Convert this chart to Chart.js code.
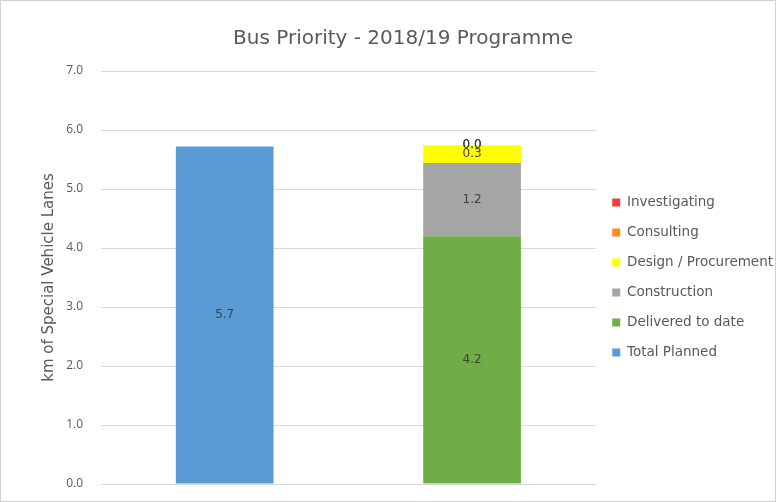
<!DOCTYPE html>
<html lang="en">
<head>
    <meta charset="UTF-8">
    <title>Bus Priority - 2018/19 Programme</title>
    <script src="https://cdn.jsdelivr.net/npm/chart.js"></script>
    <style>
        html, body { margin: 0; padding: 0; background: #fff; }
        .wrap {
            width: 776px;
            height: 502px;
            box-sizing: border-box;
            border: 1px solid #d0d0d0;
        }
    </style>
</head>
<body>
    <div class="wrap"><canvas id="busChart" width="774" height="500"></canvas></div>

    <script>
        const categories = ["Planned", "Progress"];
        const totalPlanned = [5.72, null];
        const delivered = [null, 4.2];
        const construction = [null, 1.24];
        const designProcurement = [null, 0.3];
        const consulting = [null, 0.0];
        const investigating = [null, 0.0];
        const yTicks = [0, 1, 2, 3, 4, 5, 6, 7];

        const FONT = "'DejaVu Sans', sans-serif";
        const TICK_FONT = "'Open Sans', sans-serif";

        // draws the value in the middle of each stacked segment
        const valueLabels = {
            id: "valueLabels",
            afterDatasetsDraw(chart) {
                const ctx = chart.ctx;
                ctx.save();
                ctx.font = "12px " + FONT;
                ctx.fillStyle = "#404040";
                ctx.textAlign = "center";
                ctx.textBaseline = "middle";
                chart.data.datasets.forEach((ds, i) => {
                    const meta = chart.getDatasetMeta(i);
                    meta.data.forEach((bar, j) => {
                        const v = ds.data[j];
                        if (v === null || v === undefined) return;
                        const y = (bar.y + bar.base) / 2;
                        ctx.fillText(v.toFixed(1), bar.x, y);
                    });
                });
                ctx.restore();
            }
        };

        const ctx = document.getElementById("busChart").getContext("2d");
        const chart = new Chart(ctx, {
            type: "bar",
            data: {
                labels: categories,
                datasets: [
                    { label: "Total Planned", data: totalPlanned, backgroundColor: "#5B9BD5" },
                    { label: "Delivered to date", data: delivered, backgroundColor: "#70AD47" },
                    { label: "Construction", data: construction, backgroundColor: "#A5A5A5" },
                    { label: "Design / Procurement", data: designProcurement, backgroundColor: "#FFFF00" },
                    { label: "Consulting", data: consulting, backgroundColor: "#FF8C1A" },
                    { label: "Investigating", data: investigating, backgroundColor: "#F23C3C" }
                ]
            },
            options: {
                responsive: false,
                animation: false,
                layout: { padding: { left: 22, right: -8, top: 22, bottom: 17 } },
                datasets: {
                    bar: { categoryPercentage: 0.5, barPercentage: 0.79 }
                },
                plugins: {
                    title: {
                        display: true,
                        text: "Bus Priority - 2018/19 Programme",
                        color: "#595959",
                        font: { family: FONT, size: 20, weight: "normal" },
                        padding: { top: 4, bottom: 20 }
                    },
                    legend: {
                        position: "right",
                        reverse: true,
                        title: {
                            display: true,
                            text: " ",
                            font: { size: 1 },
                            padding: { top: 47, bottom: 0 }
                        },
                        labels: {
                            boxWidth: 8,
                            boxHeight: 8,
                            padding: 16.5,
                            color: "#595959",
                            font: { family: FONT, size: 13.5 }
                        }
                    },
                    tooltip: { enabled: false }
                },
                scales: {
                    x: {
                        stacked: true,
                        ticks: { display: false },
                        grid: { display: false, drawTicks: false },
                        border: { color: "#d9d9d9" },
                        afterFit: axis => { axis.height = 0; }
                    },
                    y: {
                        stacked: true,
                        min: 0,
                        max: 7,
                        afterBuildTicks: axis => { axis.ticks = yTicks.map(v => ({ value: v })); },
                        afterFit: axis => {
                            axis.width = 78;
                            axis.paddingTop = 8;
                            axis.paddingBottom = 8;
                        },
                        ticks: {
                            color: "#595959",
                            padding: 18,
                            font: { family: TICK_FONT, size: 12 },
                            callback: v => v.toFixed(1)
                        },
                        grid: { color: "#d9d9d9", drawTicks: false },
                        border: { display: false },
                        title: {
                            display: true,
                            text: "km of Special Vehicle Lanes",
                            color: "#595959",
                            padding: { top: 17, bottom: 0 },
                            font: { family: FONT, size: 15 }
                        }
                    }
                }
            },
            plugins: [valueLabels]
        });
    </script>
</body>
</html>
